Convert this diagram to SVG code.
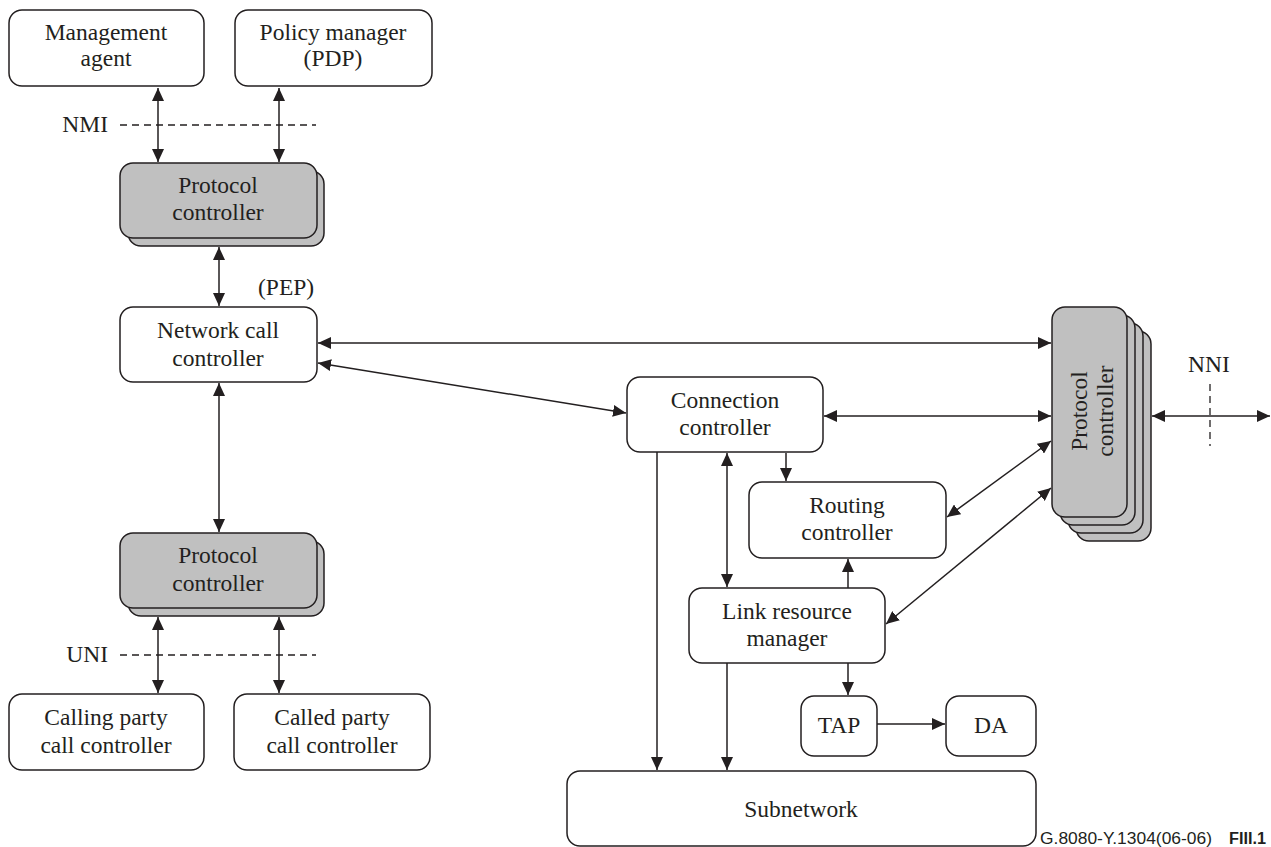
<svg xmlns="http://www.w3.org/2000/svg" width="1271" height="847" viewBox="0 0 1271 847">
<style>
.box{fill:#fff;stroke:#231f20;stroke-width:1.5}
.pc{fill:#c0c0c0;stroke:#231f20;stroke-width:1.5}
.t{font-family:"Liberation Serif","Times New Roman",serif;font-size:23.5px;fill:#231f20;text-anchor:middle}
.lbl{font-family:"Liberation Serif","Times New Roman",serif;font-size:23.5px;fill:#231f20}
.c{stroke:#231f20;stroke-width:1.5;fill:none}
.d{stroke:#231f20;stroke-width:1.3;fill:none;stroke-dasharray:7,5}
.foot{font-family:"Liberation Sans",Arial,sans-serif;font-size:16px;fill:#231f20}
</style>
<defs>
<marker id="ah" markerUnits="userSpaceOnUse" markerWidth="14" markerHeight="12" refX="13" refY="6" orient="auto-start-reverse" viewBox="0 0 14 12">
<path d="M0,0 L13,6 L0,12 z" fill="#231f20"/>
</marker>
</defs>
<rect width="1271" height="847" fill="#fff"/>

<g id="management-agent">
<rect class="box" x="9" y="10" width="195" height="76" rx="13"/>
<text class="t" x="106" y="40">Management</text>
<text class="t" x="106" y="66">agent</text>
</g>
<g id="policy-manager">
<rect class="box" x="235" y="10" width="197" height="76" rx="13"/>
<text class="t" x="333" y="40">Policy manager</text>
<text class="t" x="333" y="66">(PDP)</text>
</g>
<g id="protocol-controller-top">
<rect class="pc" x="128" y="171" width="196" height="75" rx="13"/>
<rect class="pc" x="120" y="163" width="197" height="75" rx="13"/>
<text class="t" x="218" y="193">Protocol</text>
<text class="t" x="218" y="220">controller</text>
</g>
<g id="network-call-controller">
<rect class="box" x="120" y="307" width="197" height="75" rx="13"/>
<text class="t" x="218" y="338">Network call</text>
<text class="t" x="218" y="366">controller</text>
</g>
<g id="protocol-controller-bottom">
<rect class="pc" x="128" y="541" width="196" height="75" rx="13"/>
<rect class="pc" x="120" y="533" width="197" height="75" rx="13"/>
<text class="t" x="218" y="563">Protocol</text>
<text class="t" x="218" y="591">controller</text>
</g>
<g id="calling-party">
<rect class="box" x="9" y="694" width="195" height="76" rx="13"/>
<text class="t" x="106" y="725">Calling party</text>
<text class="t" x="106" y="753">call controller</text>
</g>
<g id="called-party">
<rect class="box" x="234" y="694" width="196" height="76" rx="13"/>
<text class="t" x="332" y="725">Called party</text>
<text class="t" x="332" y="753">call controller</text>
</g>
<g id="connection-controller">
<rect class="box" x="627" y="377" width="196" height="75" rx="13"/>
<text class="t" x="725" y="408">Connection</text>
<text class="t" x="725" y="435">controller</text>
</g>
<g id="routing-controller">
<rect class="box" x="749" y="482" width="197" height="76" rx="13"/>
<text class="t" x="847" y="513">Routing</text>
<text class="t" x="847" y="540">controller</text>
</g>
<g id="link-resource-manager">
<rect class="box" x="689" y="588" width="196" height="75" rx="13"/>
<text class="t" x="787" y="619">Link resource</text>
<text class="t" x="787" y="646">manager</text>
</g>
<g id="tap">
<rect class="box" x="801" y="696" width="76" height="60" rx="13"/>
<text class="t" x="839" y="733">TAP</text>
</g>
<g id="da">
<rect class="box" x="946" y="696" width="90" height="60" rx="13"/>
<text class="t" x="991" y="733">DA</text>
</g>
<g id="subnetwork">
<rect class="box" x="567" y="771" width="469" height="75" rx="13"/>
<text class="t" x="801" y="817">Subnetwork</text>
</g>
<g id="protocol-controller-right">
<rect class="pc" x="1076" y="331" width="75" height="210" rx="13"/>
<rect class="pc" x="1068" y="323" width="75" height="210" rx="13"/>
<rect class="pc" x="1060" y="315" width="75" height="210" rx="13"/>
<rect class="pc" x="1052" y="307" width="75" height="210" rx="13"/>
<text class="t" transform="translate(1087,411) rotate(-90)">Protocol</text>
<text class="t" transform="translate(1113,411) rotate(-90)">controller</text>
</g>

<g id="connectors">
<line class="c" x1="158" y1="88" x2="158" y2="162" marker-start="url(#ah)" marker-end="url(#ah)"/>
<line class="c" x1="279" y1="88" x2="279" y2="162" marker-start="url(#ah)" marker-end="url(#ah)"/>
<line class="c" x1="219" y1="247" x2="219" y2="306" marker-start="url(#ah)" marker-end="url(#ah)"/>
<line class="c" x1="219" y1="383" x2="219" y2="532" marker-start="url(#ah)" marker-end="url(#ah)"/>
<line class="c" x1="158" y1="617" x2="158" y2="693" marker-start="url(#ah)" marker-end="url(#ah)"/>
<line class="c" x1="279" y1="617" x2="279" y2="693" marker-start="url(#ah)" marker-end="url(#ah)"/>
<line class="c" x1="318" y1="343" x2="1051" y2="343" marker-start="url(#ah)" marker-end="url(#ah)"/>
<line class="c" x1="318" y1="363" x2="626" y2="413" marker-start="url(#ah)" marker-end="url(#ah)"/>
<line class="c" x1="824" y1="416" x2="1051" y2="416" marker-start="url(#ah)" marker-end="url(#ah)"/>
<line class="c" x1="947" y1="517" x2="1051" y2="441" marker-start="url(#ah)" marker-end="url(#ah)"/>
<line class="c" x1="886" y1="624" x2="1051" y2="488" marker-start="url(#ah)" marker-end="url(#ah)"/>
<line class="c" x1="1152" y1="416" x2="1270" y2="416" marker-start="url(#ah)" marker-end="url(#ah)"/>
<line class="c" x1="786" y1="453" x2="786" y2="481" marker-end="url(#ah)"/>
<line class="c" x1="727" y1="453" x2="727" y2="587" marker-start="url(#ah)" marker-end="url(#ah)"/>
<line class="c" x1="848" y1="588" x2="848" y2="559" marker-end="url(#ah)"/>
<line class="c" x1="657" y1="452" x2="657" y2="770" marker-end="url(#ah)"/>
<line class="c" x1="727" y1="663" x2="727" y2="770" marker-end="url(#ah)"/>
<line class="c" x1="848" y1="663" x2="848" y2="695" marker-end="url(#ah)"/>
<line class="c" x1="877" y1="724" x2="945" y2="724" marker-end="url(#ah)"/>
<line class="d" x1="120" y1="125" x2="316" y2="125"/>
<line class="d" x1="120" y1="655" x2="316" y2="655"/>
<line class="d" x1="1210" y1="384" x2="1210" y2="446"/>
</g>

<g id="labels">
<text class="lbl" x="108" y="132" text-anchor="end">NMI</text>
<text class="lbl" x="108" y="662" text-anchor="end">UNI</text>
<text class="lbl" x="258" y="295">(PEP)</text>
<text class="lbl" x="1209" y="372" text-anchor="middle">NNI</text>
<text class="foot" x="1040" y="844" textLength="172" lengthAdjust="spacingAndGlyphs">G.8080-Y.1304(06-06)</text>
<text class="foot" x="1229" y="844" textLength="37" lengthAdjust="spacingAndGlyphs" font-weight="bold">FIII.1</text>
</g>
</svg>
